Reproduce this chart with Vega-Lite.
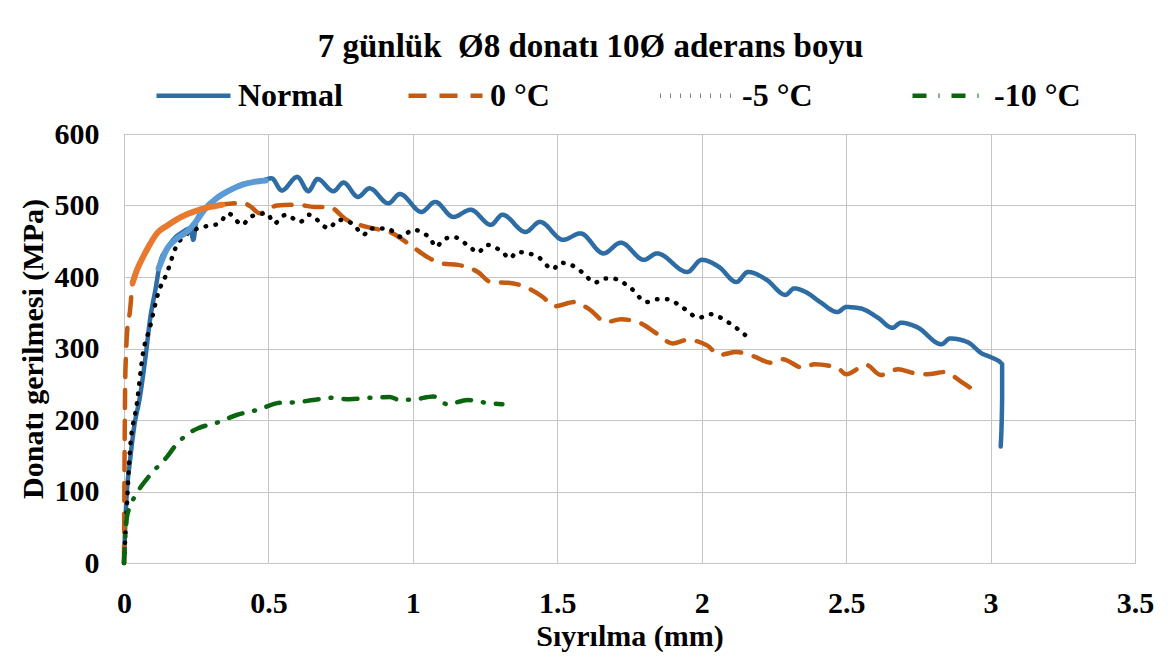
{
  "$schema": "https://vega.github.io/schema/vega-lite/v6.json",
  "autosize": "none",
  "width": 1011,
  "height": 429,
  "padding": {"left": 124, "top": 134, "right": 40, "bottom": 100},
  "background": "white",
  "config": {
    "font": "Liberation Serif",
    "view": {"stroke": "#C4C4C4"},
    "axis": {"labelFont": "Liberation Serif", "titleFont": "Liberation Serif", "labelFontWeight": "bold", "titleFontWeight": "bold", "labelColor": "#000", "titleColor": "#000", "labelFontSize": 30, "titleFontSize": 30, "gridColor": "#C4C4C4", "gridWidth": 1, "domain": false, "ticks": false},
    "legend": {"labelFont": "Liberation Serif", "labelFontWeight": "bold", "labelFontSize": 32, "labelColor": "#000"}
  },
  "title": {"text": "7 günlük \u00a0Ø8 donatı 10Ø aderans boyu", "font": "Liberation Serif", "fontWeight": "bold", "fontSize": 33, "color": "#000", "anchor": "middle", "frame": "group", "offset": 20, "dx": -39, "dy": 28},
  "datasets": {
    "main": [
    {"s":"Normal","i":1,"x":0,"y":0},
    {"s":"Normal","i":2,"x":0.005,"y":60},
    {"s":"Normal","i":3,"x":0.01,"y":100},
    {"s":"Normal","i":4,"x":0.02,"y":140},
    {"s":"Normal","i":5,"x":0.035,"y":190},
    {"s":"Normal","i":6,"x":0.055,"y":232},
    {"s":"Normal","i":7,"x":0.075,"y":290},
    {"s":"Normal","i":8,"x":0.09,"y":340},
    {"s":"Normal","i":9,"x":0.11,"y":385},
    {"s":"Normal","i":10,"x":0.125,"y":420},
    {"s":"Normal","i":11,"x":0.15,"y":440},
    {"s":"Normal","i":12,"x":0.17,"y":452},
    {"s":"Normal","i":13,"x":0.2,"y":462},
    {"s":"Normal","i":14,"x":0.23,"y":468},
    {"s":"Normal","i":15,"x":0.24,"y":452},
    {"s":"Normal","i":16,"x":0.25,"y":478},
    {"s":"Normal","i":17,"x":0.28,"y":495},
    {"s":"Normal","i":18,"x":0.32,"y":510},
    {"s":"Normal","i":19,"x":0.36,"y":520},
    {"s":"Normal","i":20,"x":0.41,"y":530},
    {"s":"Normal","i":21,"x":0.45,"y":533},
    {"s":"Normal","i":22,"x":0.48,"y":535},
    {"s":"Normal","i":23,"x":0.511,"y":538},
    {"s":"Normal","i":24,"x":0.546,"y":521},
    {"s":"Normal","i":25,"x":0.6,"y":540},
    {"s":"Normal","i":26,"x":0.638,"y":520},
    {"s":"Normal","i":27,"x":0.67,"y":537},
    {"s":"Normal","i":28,"x":0.725,"y":520},
    {"s":"Normal","i":29,"x":0.76,"y":532},
    {"s":"Normal","i":30,"x":0.81,"y":512},
    {"s":"Normal","i":31,"x":0.85,"y":524},
    {"s":"Normal","i":32,"x":0.915,"y":503},
    {"s":"Normal","i":33,"x":0.955,"y":516},
    {"s":"Normal","i":34,"x":1.03,"y":491},
    {"s":"Normal","i":35,"x":1.077,"y":505},
    {"s":"Normal","i":36,"x":1.14,"y":484},
    {"s":"Normal","i":37,"x":1.2,"y":494},
    {"s":"Normal","i":38,"x":1.27,"y":473},
    {"s":"Normal","i":39,"x":1.31,"y":487},
    {"s":"Normal","i":40,"x":1.39,"y":463},
    {"s":"Normal","i":41,"x":1.44,"y":477},
    {"s":"Normal","i":42,"x":1.52,"y":452},
    {"s":"Normal","i":43,"x":1.58,"y":461},
    {"s":"Normal","i":44,"x":1.66,"y":433},
    {"s":"Normal","i":45,"x":1.72,"y":448},
    {"s":"Normal","i":46,"x":1.80,"y":424},
    {"s":"Normal","i":47,"x":1.845,"y":433},
    {"s":"Normal","i":48,"x":1.95,"y":407},
    {"s":"Normal","i":49,"x":2.0,"y":424},
    {"s":"Normal","i":50,"x":2.06,"y":414},
    {"s":"Normal","i":51,"x":2.12,"y":393},
    {"s":"Normal","i":52,"x":2.16,"y":407},
    {"s":"Normal","i":53,"x":2.225,"y":396},
    {"s":"Normal","i":54,"x":2.29,"y":375},
    {"s":"Normal","i":55,"x":2.32,"y":384},
    {"s":"Normal","i":56,"x":2.36,"y":379},
    {"s":"Normal","i":57,"x":2.41,"y":365},
    {"s":"Normal","i":58,"x":2.47,"y":351},
    {"s":"Normal","i":59,"x":2.50,"y":358},
    {"s":"Normal","i":60,"x":2.55,"y":356},
    {"s":"Normal","i":61,"x":2.61,"y":343},
    {"s":"Normal","i":62,"x":2.66,"y":329},
    {"s":"Normal","i":63,"x":2.69,"y":336},
    {"s":"Normal","i":64,"x":2.745,"y":330},
    {"s":"Normal","i":65,"x":2.83,"y":306},
    {"s":"Normal","i":66,"x":2.86,"y":314},
    {"s":"Normal","i":67,"x":2.92,"y":309},
    {"s":"Normal","i":68,"x":2.97,"y":293},
    {"s":"Normal","i":69,"x":3.0,"y":288},
    {"s":"Normal","i":70,"x":3.04,"y":278},
    {"s":"Normal","i":71,"x":3.04,"y":230},
    {"s":"Normal","i":72,"x":3.035,"y":163},
    {"s":"0 °C","i":1,"x":0,"y":0},
    {"s":"0 °C","i":2,"x":0.002,"y":150},
    {"s":"0 °C","i":3,"x":0.004,"y":250},
    {"s":"0 °C","i":4,"x":0.007,"y":293},
    {"s":"0 °C","i":5,"x":0.012,"y":330},
    {"s":"0 °C","i":6,"x":0.02,"y":350},
    {"s":"0 °C","i":7,"x":0.03,"y":392},
    {"s":"0 °C","i":8,"x":0.045,"y":410},
    {"s":"0 °C","i":9,"x":0.066,"y":428},
    {"s":"0 °C","i":10,"x":0.09,"y":446},
    {"s":"0 °C","i":11,"x":0.114,"y":461},
    {"s":"0 °C","i":12,"x":0.15,"y":472},
    {"s":"0 °C","i":13,"x":0.18,"y":480},
    {"s":"0 °C","i":14,"x":0.22,"y":488},
    {"s":"0 °C","i":15,"x":0.26,"y":494},
    {"s":"0 °C","i":16,"x":0.3,"y":498},
    {"s":"0 °C","i":17,"x":0.33,"y":501},
    {"s":"0 °C","i":18,"x":0.38,"y":503},
    {"s":"0 °C","i":19,"x":0.41,"y":504},
    {"s":"0 °C","i":20,"x":0.44,"y":498},
    {"s":"0 °C","i":21,"x":0.47,"y":489},
    {"s":"0 °C","i":22,"x":0.53,"y":500},
    {"s":"0 °C","i":23,"x":0.6,"y":501},
    {"s":"0 °C","i":24,"x":0.66,"y":498},
    {"s":"0 °C","i":25,"x":0.71,"y":498},
    {"s":"0 °C","i":26,"x":0.77,"y":480},
    {"s":"0 °C","i":27,"x":0.84,"y":470},
    {"s":"0 °C","i":28,"x":0.93,"y":461},
    {"s":"0 °C","i":29,"x":1.0,"y":442},
    {"s":"0 °C","i":30,"x":1.05,"y":428},
    {"s":"0 °C","i":31,"x":1.1,"y":419},
    {"s":"0 °C","i":32,"x":1.156,"y":417},
    {"s":"0 °C","i":33,"x":1.225,"y":407},
    {"s":"0 °C","i":34,"x":1.27,"y":393},
    {"s":"0 °C","i":35,"x":1.33,"y":392},
    {"s":"0 °C","i":36,"x":1.39,"y":386},
    {"s":"0 °C","i":37,"x":1.45,"y":372},
    {"s":"0 °C","i":38,"x":1.49,"y":359},
    {"s":"0 °C","i":39,"x":1.56,"y":365},
    {"s":"0 °C","i":40,"x":1.61,"y":355},
    {"s":"0 °C","i":41,"x":1.67,"y":337},
    {"s":"0 °C","i":42,"x":1.72,"y":341},
    {"s":"0 °C","i":43,"x":1.79,"y":335},
    {"s":"0 °C","i":44,"x":1.84,"y":322},
    {"s":"0 °C","i":45,"x":1.90,"y":307},
    {"s":"0 °C","i":46,"x":1.95,"y":312},
    {"s":"0 °C","i":47,"x":2.02,"y":304},
    {"s":"0 °C","i":48,"x":2.06,"y":291},
    {"s":"0 °C","i":49,"x":2.12,"y":295},
    {"s":"0 °C","i":50,"x":2.18,"y":289},
    {"s":"0 °C","i":51,"x":2.24,"y":280},
    {"s":"0 °C","i":52,"x":2.28,"y":285},
    {"s":"0 °C","i":53,"x":2.35,"y":273},
    {"s":"0 °C","i":54,"x":2.39,"y":278},
    {"s":"0 °C","i":55,"x":2.47,"y":273},
    {"s":"0 °C","i":56,"x":2.50,"y":264},
    {"s":"0 °C","i":57,"x":2.57,"y":277},
    {"s":"0 °C","i":58,"x":2.62,"y":263},
    {"s":"0 °C","i":59,"x":2.68,"y":271},
    {"s":"0 °C","i":60,"x":2.73,"y":266},
    {"s":"0 °C","i":61,"x":2.78,"y":264},
    {"s":"0 °C","i":62,"x":2.84,"y":267},
    {"s":"0 °C","i":63,"x":2.90,"y":253},
    {"s":"0 °C","i":64,"x":2.945,"y":241},
    {"s":"-5 °C","i":1,"x":0,"y":0},
    {"s":"-5 °C","i":2,"x":0.01,"y":80},
    {"s":"-5 °C","i":3,"x":0.02,"y":154},
    {"s":"-5 °C","i":4,"x":0.045,"y":224},
    {"s":"-5 °C","i":5,"x":0.066,"y":294},
    {"s":"-5 °C","i":6,"x":0.09,"y":330},
    {"s":"-5 °C","i":7,"x":0.118,"y":377},
    {"s":"-5 °C","i":8,"x":0.148,"y":405},
    {"s":"-5 °C","i":9,"x":0.18,"y":442},
    {"s":"-5 °C","i":10,"x":0.22,"y":461},
    {"s":"-5 °C","i":11,"x":0.275,"y":470},
    {"s":"-5 °C","i":12,"x":0.33,"y":475},
    {"s":"-5 °C","i":13,"x":0.36,"y":489},
    {"s":"-5 °C","i":14,"x":0.41,"y":473},
    {"s":"-5 °C","i":15,"x":0.436,"y":484},
    {"s":"-5 °C","i":16,"x":0.495,"y":489},
    {"s":"-5 °C","i":17,"x":0.52,"y":475},
    {"s":"-5 °C","i":18,"x":0.56,"y":487},
    {"s":"-5 °C","i":19,"x":0.61,"y":477},
    {"s":"-5 °C","i":20,"x":0.64,"y":487},
    {"s":"-5 °C","i":21,"x":0.71,"y":468},
    {"s":"-5 °C","i":22,"x":0.74,"y":480},
    {"s":"-5 °C","i":23,"x":0.79,"y":475},
    {"s":"-5 °C","i":24,"x":0.83,"y":459},
    {"s":"-5 °C","i":25,"x":0.85,"y":468},
    {"s":"-5 °C","i":26,"x":0.91,"y":468},
    {"s":"-5 °C","i":27,"x":0.96,"y":456},
    {"s":"-5 °C","i":28,"x":1.0,"y":466},
    {"s":"-5 °C","i":29,"x":1.06,"y":454},
    {"s":"-5 °C","i":30,"x":1.08,"y":442},
    {"s":"-5 °C","i":31,"x":1.105,"y":452},
    {"s":"-5 °C","i":32,"x":1.14,"y":456},
    {"s":"-5 °C","i":33,"x":1.2,"y":441},
    {"s":"-5 °C","i":34,"x":1.225,"y":434},
    {"s":"-5 °C","i":35,"x":1.255,"y":445},
    {"s":"-5 °C","i":36,"x":1.31,"y":435},
    {"s":"-5 °C","i":37,"x":1.336,"y":426},
    {"s":"-5 °C","i":38,"x":1.36,"y":435},
    {"s":"-5 °C","i":39,"x":1.43,"y":429},
    {"s":"-5 °C","i":40,"x":1.485,"y":411},
    {"s":"-5 °C","i":41,"x":1.51,"y":420},
    {"s":"-5 °C","i":42,"x":1.57,"y":412},
    {"s":"-5 °C","i":43,"x":1.60,"y":401},
    {"s":"-5 °C","i":44,"x":1.63,"y":392},
    {"s":"-5 °C","i":45,"x":1.66,"y":398},
    {"s":"-5 °C","i":46,"x":1.69,"y":398},
    {"s":"-5 °C","i":47,"x":1.75,"y":386},
    {"s":"-5 °C","i":48,"x":1.81,"y":365},
    {"s":"-5 °C","i":49,"x":1.845,"y":369},
    {"s":"-5 °C","i":50,"x":1.88,"y":369},
    {"s":"-5 °C","i":51,"x":1.935,"y":357},
    {"s":"-5 °C","i":52,"x":1.99,"y":343},
    {"s":"-5 °C","i":53,"x":2.03,"y":348},
    {"s":"-5 °C","i":54,"x":2.09,"y":337},
    {"s":"-5 °C","i":55,"x":2.15,"y":319},
    {"s":"-10 °C","i":1,"x":0,"y":0},
    {"s":"-10 °C","i":2,"x":0.005,"y":40},
    {"s":"-10 °C","i":3,"x":0.01,"y":64},
    {"s":"-10 °C","i":4,"x":0.02,"y":78},
    {"s":"-10 °C","i":5,"x":0.045,"y":98},
    {"s":"-10 °C","i":6,"x":0.09,"y":123},
    {"s":"-10 °C","i":7,"x":0.148,"y":148},
    {"s":"-10 °C","i":8,"x":0.18,"y":165},
    {"s":"-10 °C","i":9,"x":0.23,"y":183},
    {"s":"-10 °C","i":10,"x":0.26,"y":189},
    {"s":"-10 °C","i":11,"x":0.32,"y":196},
    {"s":"-10 °C","i":12,"x":0.39,"y":207},
    {"s":"-10 °C","i":13,"x":0.46,"y":214},
    {"s":"-10 °C","i":14,"x":0.54,"y":224},
    {"s":"-10 °C","i":15,"x":0.60,"y":225},
    {"s":"-10 °C","i":16,"x":0.655,"y":228},
    {"s":"-10 °C","i":17,"x":0.72,"y":231},
    {"s":"-10 °C","i":18,"x":0.78,"y":229},
    {"s":"-10 °C","i":19,"x":0.85,"y":231},
    {"s":"-10 °C","i":20,"x":0.92,"y":232},
    {"s":"-10 °C","i":21,"x":0.955,"y":228},
    {"s":"-10 °C","i":22,"x":1.01,"y":229},
    {"s":"-10 °C","i":23,"x":1.07,"y":233},
    {"s":"-10 °C","i":24,"x":1.12,"y":222},
    {"s":"-10 °C","i":25,"x":1.19,"y":228},
    {"s":"-10 °C","i":26,"x":1.256,"y":224},
    {"s":"-10 °C","i":27,"x":1.31,"y":222}
    ],
    "lightBlue": [
    {"i":1,"x":0.12,"y":412},
    {"i":2,"x":0.15,"y":440},
    {"i":3,"x":0.18,"y":453},
    {"i":4,"x":0.22,"y":464},
    {"i":5,"x":0.25,"y":478},
    {"i":6,"x":0.28,"y":495},
    {"i":7,"x":0.32,"y":510},
    {"i":8,"x":0.36,"y":520},
    {"i":9,"x":0.41,"y":529},
    {"i":10,"x":0.45,"y":533},
    {"i":11,"x":0.49,"y":535}
    ],
    "lightOrange": [
    {"i":1,"x":0.03,"y":392},
    {"i":2,"x":0.045,"y":410},
    {"i":3,"x":0.066,"y":428},
    {"i":4,"x":0.09,"y":446},
    {"i":5,"x":0.114,"y":461},
    {"i":6,"x":0.15,"y":472},
    {"i":7,"x":0.18,"y":480},
    {"i":8,"x":0.22,"y":488},
    {"i":9,"x":0.26,"y":494},
    {"i":10,"x":0.3,"y":498},
    {"i":11,"x":0.34,"y":501}
    ]
  },
  "encoding": {
    "x": {"field": "x", "type": "quantitative", "scale": {"domain": [0, 3.5], "nice": false, "zero": false}, "axis": {"values": [0, 0.5, 1, 1.5, 2, 2.5, 3, 3.5], "format": "~g", "labelPadding": 25, "title": "Sıyrılma (mm)", "titlePadding": 3, "labelFlush": false}},
    "y": {"field": "y", "type": "quantitative", "scale": {"domain": [0, 600], "nice": false}, "axis": {"values": [0, 100, 200, 300, 400, 500, 600], "labelPadding": 25, "title": "Donatı gerilmesi (MPa)", "titlePadding": 6, "labelFlush": false}},
    "order": {"field": "i", "type": "quantitative"}
  },
  "layer": [
    {
      "data": {"name": "main"},
      "mark": {"type": "line", "strokeCap": "round", "strokeJoin": "round", "interpolate": "monotone"},
      "encoding": {
        "color": {"field": "s", "type": "nominal", "scale": {"domain": ["Normal", "0 °C", "-5 °C", "-10 °C"], "range": ["#2E6CA4", "#C55A11", "#000000", "#0A650F"]},
          "legend": {"title": null, "orient": "none", "legendX": 30, "legendY": -78, "direction": "horizontal", "columns": 4, "gridAlign": "all", "columnPadding": 56, "symbolType": "stroke", "symbolSize": 5476, "symbolStrokeWidth": 4.5, "labelOffset": 5, "labelLimit": 300, "padding": 0}},
        "strokeDash": {"field": "s", "type": "nominal", "scale": {"domain": ["Normal", "0 °C", "-5 °C", "-10 °C"], "range": [[1, 0], [18, 13], [0.5, 9.5], [14, 12, 1, 12]]}, "legend": null},
        "strokeWidth": {"field": "s", "type": "nominal", "scale": {"domain": ["Normal", "0 °C", "-5 °C", "-10 °C"], "range": [4.5, 4.5, 5.5, 4.5]}, "legend": null}
      }
    },
    {
      "data": {"name": "lightBlue"},
      "mark": {"type": "line", "strokeWidth": 6, "strokeCap": "round", "strokeJoin": "round", "interpolate": "monotone", "color": "#5B9BD5"},
      "encoding": {}
    },
    {
      "data": {"name": "lightOrange"},
      "mark": {"type": "line", "strokeWidth": 6, "strokeCap": "round", "strokeJoin": "round", "interpolate": "monotone", "color": "#E87A30"},
      "encoding": {}
    }
  ]
}
